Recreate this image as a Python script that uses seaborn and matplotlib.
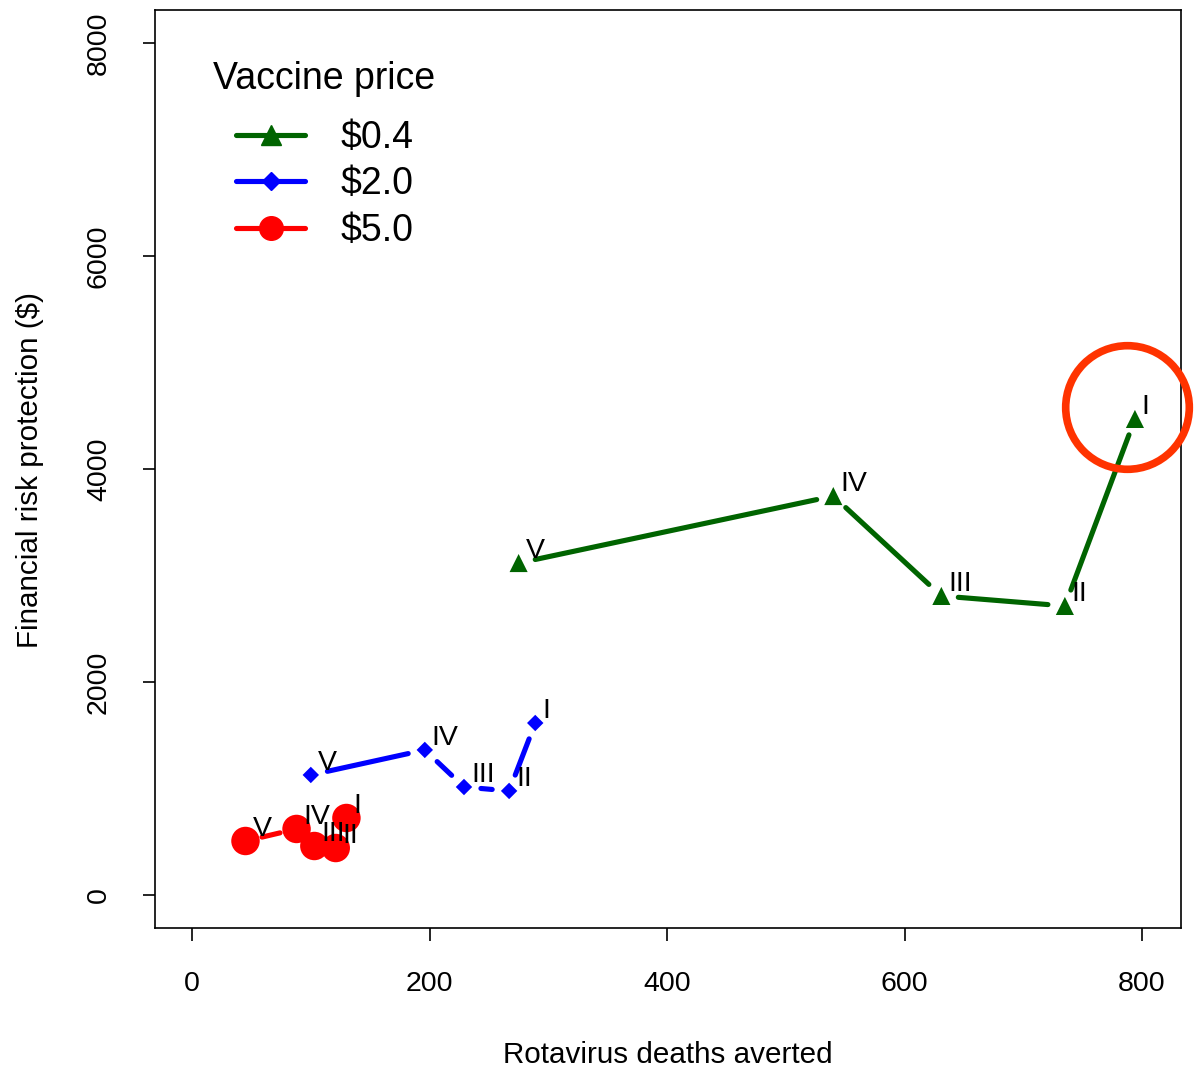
import numpy as np
import pandas as pd
import matplotlib
matplotlib.use("Agg")
import matplotlib.pyplot as plt
import seaborn as sns
from matplotlib.lines import Line2D

# ---- data ----
scenarios = ["I", "II", "III", "IV", "V"]
prices = ["$0.4", "$2.0", "$5.0"]
deaths_04 = [794, 735, 631, 540, 275]
frp_04 = [4470, 2714, 2808, 3746, 3117]
deaths_20 = [289, 267, 229, 196, 100]
frp_20 = [1615, 977, 1014, 1362, 1127]
deaths_50 = [130, 121, 103, 88, 45]
frp_50 = [723, 441, 460, 620, 507]
highlight_x = [787]
highlight_y = [4582]
x_ticks = [0, 200, 400, 600, 800]
y_ticks = [0, 2000, 4000, 6000, 8000]

rows = []
for p, xs, ys in zip(prices, [deaths_04, deaths_20, deaths_50], [frp_04, frp_20, frp_50]):
    for s, x, y in zip(scenarios, xs, ys):
        rows.append({"price": p, "scenario": s, "deaths": x, "frp": y})
df = pd.DataFrame(rows)

colors = {"$0.4": "#006400", "$2.0": "#0000FF", "$5.0": "#FF0000"}
markers = {"$0.4": "^", "$2.0": "D", "$5.0": "o"}
msizes = {"$0.4": 170, "$2.0": 70, "$5.0": 420}

sns.set_style("white")
plt.rcParams["font.family"] = ["Liberation Sans", "DejaVu Sans"]
plt.rcParams["text.color"] = "black"
plt.rcParams["axes.labelcolor"] = "black"
plt.rcParams["xtick.color"] = "black"
plt.rcParams["ytick.color"] = "black"

W, H = 1194, 1069
fig = plt.figure(figsize=(W / 100, H / 100), dpi=100)
ax = fig.add_axes([155 / W, 1 - 928 / H, (1181 - 155) / W, (928 - 10) / H])
ax.set_xlim(-31.2, 832.8)
ax.set_ylim(-310, 8310)

# lines with gaps around points (R type="b")
gap = 17.0
for p in prices:
    sub = df[df.price == p]
    pts = ax.transData.transform(np.column_stack([sub.deaths.values, sub.frp.values]))
    for a, b in zip(pts[:-1], pts[1:]):
        d = b - a
        L = np.hypot(*d)
        if L <= 2 * gap:
            continue
        u = d / L
        seg = ax.transData.inverted().transform(np.array([a + u * gap, b - u * gap]))
        ax.plot(seg[:, 0], seg[:, 1], color=colors[p], lw=3.7, solid_capstyle="round", zorder=2)

for p in prices:
    sub = df[df.price == p]
    sns.scatterplot(data=sub, x="deaths", y="frp", color=colors[p], marker=markers[p],
                    s=msizes[p], edgecolor="none", ax=ax, zorder=3, legend=False)

for _, r in df.iterrows():
    ax.annotate(r.scenario, (r.deaths, r.frp), xytext=(5, -1), textcoords="offset points",
                ha="left", va="bottom", fontsize=20.5, color="black", zorder=4)

# highlight circle
ax.plot(highlight_x, highlight_y, marker="o", markersize=89, markerfacecolor="none",
        markeredgecolor="#FF3300", markeredgewidth=5.5, clip_on=False, zorder=5, linestyle="none")

# axes styling
for s in ax.spines.values():
    s.set_visible(True)
    s.set_color("black")
    s.set_linewidth(1.2)
ax.set_xticks(x_ticks)
ax.set_yticks(y_ticks)
ax.set_xticklabels([str(t) for t in x_ticks], fontsize=20.5)
ax.set_yticklabels([str(t) for t in y_ticks], fontsize=20.5, rotation=90, va="center")
ax.tick_params(axis="both", direction="out", length=9, width=1.2, color="black",
               bottom=True, left=True, top=False, right=False)
ax.tick_params(axis="x", pad=22)
ax.tick_params(axis="y", pad=22)
ax.set_xlabel("Rotavirus deaths averted", fontsize=21.3)
ax.set_ylabel("Financial risk protection ($)", fontsize=21.3)
ax.xaxis.set_label_coords((668 - 155) / (1181 - 155), -(1055 - 928) / (928 - 10), transform=ax.transAxes)
ax.yaxis.set_label_coords(-(155 - 30) / (1181 - 155), (928 - 470) / (928 - 10), transform=ax.transAxes)
ax.xaxis.label.set_va("center")
ax.yaxis.label.set_va("center")
ax.grid(False)

# legend
ax.text((213 - 155) / (1181 - 155), (928 - 79) / (928 - 10), "Vaccine price", transform=ax.transAxes,
        fontsize=27, ha="left", va="center", color="black")
handles = [Line2D([0], [0], color=colors[p], lw=3.7, marker=markers[p],
                  markersize={"$0.4": 14, "$2.0": 9, "$5.0": 17}[p]) for p in prices]
leg = ax.legend(handles, prices, loc="upper left",
                bbox_to_anchor=((236 - 155) / (1181 - 155), (928 - 120) / (928 - 10)),
                frameon=False, fontsize=27, handlelength=1.85,
                handletextpad=0.95, labelspacing=0.28, borderaxespad=0, borderpad=0)

fig.savefig("out.png", dpi=100)
